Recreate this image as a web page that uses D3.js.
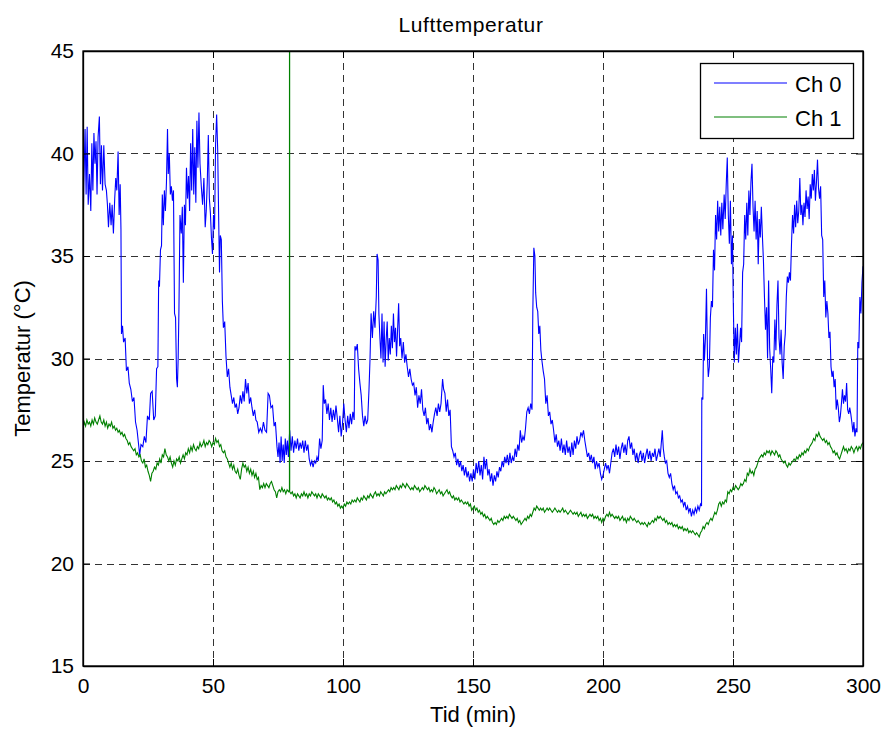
<!DOCTYPE html>
<html><head><meta charset="utf-8">
<script src="https://cdn.jsdelivr.net/npm/d3@7/dist/d3.min.js"></script>
<style>
body{margin:0;background:#fff;}
text{font-family:Arial,"Liberation Sans",Helvetica,sans-serif;fill:#000;}
</style></head>
<body>
<svg id="chart" width="885" height="729"></svg>
<script>
const chartTitle = "Lufttemperatur";
const xLabel = "Tid (min)";
const yLabel = "Temperatur (°C)";
const seriesNames = ["Ch 0", "Ch 1"];
const seriesColors = ["#0000ff", "#008000"];
const xTicks = [0, 50, 100, 150, 200, 250, 300];
const yTicks = [15, 20, 25, 30, 35, 40, 45];

// Ch 0: [time (min), temperature (°C)]
const ch0Data = [
[0,35.5],[0.3,38.4],[0.8,41.2],[1.2,38.0],[1.6,41.3],[2.0,37.5],[2.5,39.0],[3.0,37.2],[3.4,40.5],[3.8,38.2],
[4.2,41.0],[4.6,39.5],[5.0,40.6],[5.4,38.0],[5.8,40.8],[6.3,41.8],[6.7,38.5],[7.1,40.4],[7.5,38.2],[8.0,40.4],
[8.5,38.5],[9.0,38.2],[9.4,37.5],[9.8,36.4],[10.3,37.6],[10.8,36.5],[11.2,37.5],[11.7,36.1],[12.2,37.8],[12.6,38.8],
[13.0,38.2],[13.5,40.1],[13.9,37.0],[14.3,38.5],[14.6,36.3],[14.8,31.2],[15.2,31.6],[15.6,30.8],[16.2,31.0],[16.7,29.4],
[17.3,29.6],[17.8,28.8],[18.4,28.5],[19.0,27.9],[19.6,28.1],[20.2,26.9],[20.8,26.5],[21.3,25.9],[21.8,25.3],[22.3,25.8],
[23.0,25.7],[23.6,26.2],[24.2,25.9],[24.8,27.2],[25.5,27.0],[26.0,28.3],[26.6,28.4],[27.2,27.0],[27.8,27.2],[28.3,29.5],
[28.8,29.6],[29.1,33.8],[29.4,33.5],[29.8,35.3],[30.2,35.5],[30.5,38.0],[30.9,36.5],[31.3,38.2],[31.7,37.2],[32.1,38.6],
[32.5,41.2],[32.8,39.0],[33.2,40.0],[33.6,38.0],[34.0,38.4],[34.4,37.7],[34.8,38.2],[35.2,32.2],[35.6,32.0],[36.0,29.0],
[36.3,28.6],[36.6,30.0],[36.9,32.4],[37.3,37.0],[37.8,36.1],[38.2,37.4],[38.6,33.7],[39.0,37.5],[39.4,36.5],[39.8,39.3],
[40.2,37.8],[40.6,38.9],[41.0,37.2],[41.4,40.5],[41.8,38.2],[42.2,41.2],[42.6,38.0],[43.0,40.3],[43.4,37.6],[43.8,41.6],
[44.2,39.3],[44.6,42.0],[45.0,39.5],[45.5,38.4],[46.0,37.5],[46.5,38.8],[47.0,36.4],[47.4,37.2],[47.8,38.6],[48.2,40.9],
[48.6,37.8],[49.0,37.1],[49.4,35.9],[49.8,35.1],[50.2,37.0],[50.6,36.3],[51.0,40.5],[51.4,41.9],[51.8,40.2],[52.2,36.7],
[52.5,34.2],[52.8,36.0],[53.2,35.8],[53.6,32.8],[54.0,31.5],[54.5,31.8],[55.0,30.1],[55.5,29.1],[56.0,29.5],[56.5,28.6],
[57.0,28.2],[57.5,27.8],[58.0,28.1],[58.5,27.6],[59.0,27.8],[59.5,27.3],[60.0,27.6],[60.5,28.2],[61.0,27.8],[61.5,28.4],
[62.0,27.9],[62.5,29.0],[63.0,28.3],[63.5,28.8],[64.0,27.8],[64.5,28.1],[65.0,27.6],[65.5,27.2],[66.0,27.5],[66.5,27.0],
[67.0,26.9],[67.6,26.4],[68.2,26.6],[68.8,26.4],[69.4,26.9],[70.0,26.5],[70.6,26.4],[71.2,28.3],[71.7,28.2],[72.3,27.6],
[72.9,27.7],[73.5,26.7],[74.0,26.9],[74.6,25.7],[75.0,25.2],[75.4,25.9],[75.8,24.9],[76.2,26.2],[76.6,25.0],[77.0,25.8],
[77.4,24.9],[77.8,26.1],[78.2,25.3],[78.6,26.0],[79.0,25.2],[79.5,26.5],[80.0,25.5],[80.5,26.2],[81.0,25.4],[81.5,26.0],
[82.0,25.6],[82.5,26.1],[83.0,25.5],[83.5,25.9],[84.0,25.6],[84.5,26.0],[85.0,25.4],[85.5,26.0],[86.0,25.5],[86.5,25.8],
[87.0,25.1],[87.5,24.8],[88.0,25.0],[88.5,24.7],[89.0,25.0],[89.5,24.9],[90.0,25.2],[90.5,25.0],[91.0,26.1],[91.5,25.6],
[92.0,26.0],[92.4,28.7],[92.8,27.8],[93.3,28.0],[93.8,27.3],[94.3,27.8],[94.8,27.0],[95.3,27.6],[95.8,26.9],[96.3,27.5],
[96.8,27.0],[97.3,27.7],[97.8,27.1],[98.3,26.4],[98.8,27.2],[99.3,26.2],[99.8,26.8],[100.3,27.8],[100.8,27.0],[101.3,26.4],
[101.8,27.2],[102.3,26.6],[102.8,27.3],[103.3,26.8],[103.8,27.4],[104.3,27.0],[104.6,30.6],[105.0,30.4],[105.5,30.7],[106.0,29.5],
[106.5,28.8],[107.0,28.2],[107.5,27.2],[108.0,26.7],[108.5,27.2],[109.0,26.8],[109.5,27.0],[110.0,28.5],[110.4,30.0],[110.8,32.2],
[111.3,31.0],[111.8,32.3],[112.3,31.5],[112.8,33.0],[113.1,35.1],[113.5,34.8],[113.8,32.2],[114.2,31.0],[114.6,30.0],[115.0,32.2],
[115.4,29.8],[115.8,31.8],[116.2,29.6],[116.6,30.9],[117.0,31.8],[117.4,29.9],[117.8,31.0],[118.2,30.2],[118.6,31.6],[119.0,30.5],
[119.4,32.2],[119.8,30.8],[120.2,31.5],[120.6,30.1],[121.0,31.4],[121.4,32.7],[121.8,30.6],[122.2,31.0],[122.7,30.0],[123.2,30.8],
[123.7,29.8],[124.2,30.2],[124.7,29.6],[125.2,29.1],[125.7,29.5],[126.2,29.0],[126.7,28.7],[127.2,28.8],[127.7,28.2],[128.2,28.6],
[128.7,27.6],[129.2,28.2],[129.7,27.8],[130.2,28.5],[130.7,27.5],[131.2,27.2],[131.7,27.6],[132.2,26.8],[132.7,27.1],[133.2,26.5],
[133.7,26.8],[134.2,26.4],[134.7,26.9],[135.2,27.3],[135.7,27.6],[136.2,27.2],[136.7,27.8],[137.2,27.4],[137.7,27.8],[138.3,29.0],
[138.7,28.5],[139.2,28.3],[139.7,27.4],[140.2,28.0],[140.7,27.2],[141.2,27.5],[141.7,25.7],[142.2,25.5],[142.7,25.2],[143.2,25.4],
[143.7,24.8],[144.2,25.1],[144.7,24.7],[145.2,25.0],[145.7,24.5],[146.2,24.8],[146.7,24.3],[147.2,24.7],[147.7,24.2],[148.2,24.5],
[148.7,24.0],[149.2,24.4],[149.7,24.0],[150.2,24.6],[150.7,24.1],[151.2,24.9],[151.7,24.4],[152.2,25.0],[152.7,24.3],[153.2,24.8],
[153.7,24.1],[154.2,25.2],[154.7,24.6],[155.2,25.1],[155.7,24.3],[156.2,24.6],[156.7,24.0],[157.2,24.4],[157.7,23.8],[158.2,24.3],
[158.7,24.0],[159.2,24.5],[159.7,24.2],[160.2,24.7],[160.7,24.5],[161.2,25.0],[161.7,24.7],[162.2,25.2],[162.7,24.9],[163.2,25.3],
[163.7,24.8],[164.2,25.4],[164.7,24.9],[165.2,25.2],[165.7,25.0],[166.2,25.6],[166.7,25.2],[167.2,25.8],[167.7,25.5],[168.2,26.5],
[168.7,25.9],[169.2,26.2],[169.7,26.0],[170.2,26.6],[170.7,27.4],[171.2,27.6],[171.7,27.3],[172.2,27.8],[172.7,27.5],[173.0,32.2],
[173.4,35.4],[173.8,35.0],[174.1,33.2],[174.5,32.5],[174.9,32.3],[175.3,31.2],[175.7,31.6],[176.1,30.4],[176.5,29.9],[177.0,29.4],
[177.5,29.0],[178.0,27.8],[178.5,28.2],[179.0,27.2],[179.5,27.4],[180.0,26.8],[180.5,27.0],[181.0,26.5],[181.5,25.9],[182.0,26.3],
[182.5,25.7],[183.0,26.0],[183.5,25.5],[184.0,26.1],[184.5,25.4],[185.0,25.8],[185.5,25.3],[186.0,26.0],[186.5,25.4],[187.0,25.7],
[187.5,25.2],[188.0,25.9],[188.5,25.3],[189.0,26.0],[189.5,25.6],[190.0,26.2],[190.5,25.8],[191.0,26.0],[191.5,26.4],[192.0,26.2],
[192.5,26.5],[193.0,26.0],[193.5,25.6],[194.0,25.2],[194.5,25.4],[195.0,25.0],[195.5,25.3],[196.0,24.9],[196.5,25.2],[197.0,24.6],
[197.5,25.0],[198.0,24.7],[198.5,24.9],[199.0,24.4],[199.5,24.1],[200.0,24.3],[200.5,24.6],[201.0,24.9],[201.5,24.6],[202.0,24.8],
[202.5,24.4],[203.0,24.9],[203.5,25.4],[204.0,25.6],[204.5,25.2],[205.0,25.8],[205.5,25.3],[206.0,25.7],[206.5,25.1],[207.0,25.6],
[207.5,25.9],[208.0,25.4],[208.5,25.8],[209.0,25.3],[209.5,26.0],[210.0,26.2],[210.5,25.6],[211.0,25.9],[211.5,25.3],[212.0,25.6],
[212.5,25.0],[213.0,25.4],[213.5,24.9],[214.0,25.3],[214.5,25.5],[215.0,25.0],[215.5,25.4],[216.0,24.9],[216.5,25.3],[217.0,25.6],
[217.5,25.1],[218.0,25.5],[218.5,25.0],[219.0,25.4],[219.5,25.2],[220.0,25.6],[220.5,25.0],[221.0,25.3],[221.5,25.6],[222.0,25.2],
[222.5,26.0],[222.8,26.5],[223.2,25.6],[223.6,25.2],[224.0,24.9],[224.5,25.0],[225.0,24.4],[225.5,24.2],[226.0,24.4],[226.5,23.9],
[227.0,23.6],[227.5,23.8],[228.0,23.4],[228.5,23.5],[229.0,23.2],[229.5,23.3],[230.0,23.0],[230.5,23.1],[231.0,22.8],[231.5,23.0],
[232.0,22.6],[232.5,22.8],[233.0,22.5],[233.5,22.7],[234.0,22.3],[234.5,22.6],[235.0,22.4],[235.5,22.7],[236.0,22.5],[236.5,22.8],
[237.0,22.6],[237.5,22.9],[237.9,22.8],[238.0,28.1],[238.4,28.0],[238.7,31.2],[239.0,29.9],[239.4,31.0],[239.8,33.4],[240.2,30.0],
[240.5,29.1],[240.9,29.6],[241.3,32.0],[241.7,32.8],[242.1,32.5],[242.5,35.3],[242.9,34.3],[243.3,37.0],[243.7,35.8],[244.1,37.7],
[244.5,36.2],[244.9,37.4],[245.3,36.0],[245.7,37.6],[246.1,36.3],[246.6,38.0],[247.0,36.8],[247.4,38.5],[247.8,39.8],[248.2,37.0],
[248.6,35.6],[249.0,37.7],[249.4,34.6],[249.8,36.0],[250.1,32.8],[250.5,29.8],[250.9,31.5],[251.3,30.2],[251.7,31.7],[252.1,29.8],
[252.5,30.6],[252.9,31.5],[253.3,30.8],[253.7,34.2],[254.1,34.6],[254.5,37.0],[254.9,35.8],[255.3,37.6],[255.7,36.0],[256.1,38.2],
[256.5,37.0],[256.9,38.6],[257.3,39.5],[257.7,37.4],[258.1,36.2],[258.5,37.7],[258.9,35.8],[259.3,37.2],[259.7,34.6],[260.1,36.8],
[260.5,35.9],[260.9,37.4],[261.3,36.0],[261.7,34.8],[262.1,33.0],[262.5,31.4],[262.9,32.5],[263.3,30.0],[263.7,33.8],[264.1,30.5],
[264.5,29.5],[264.9,28.3],[265.3,30.1],[265.7,29.8],[266.1,31.9],[266.5,30.4],[266.9,32.6],[267.3,33.8],[267.7,31.0],[268.1,30.2],
[268.5,31.4],[268.9,29.8],[269.3,29.0],[269.7,30.6],[270.1,31.2],[270.5,33.0],[270.9,34.0],[271.3,33.7],[271.7,34.2],[272.1,33.8],
[272.5,35.6],[272.9,37.0],[273.3,36.1],[273.7,37.5],[274.1,36.4],[274.5,37.7],[274.9,36.6],[275.3,37.2],[275.7,38.8],[276.1,37.0],
[276.5,37.5],[276.9,36.5],[277.3,37.6],[277.7,36.9],[278.1,38.2],[278.5,37.3],[278.9,37.9],[279.3,36.8],[279.7,38.5],[280.1,37.8],
[280.5,39.0],[280.9,38.2],[281.3,39.2],[281.7,37.7],[282.1,38.6],[282.5,39.7],[282.9,38.3],[283.3,37.8],[283.7,38.4],[284.1,36.0],
[284.5,35.8],[284.9,33.0],[285.3,33.8],[285.7,32.0],[286.1,32.8],[286.5,32.2],[286.9,31.0],[287.3,31.3],[287.7,29.6],[288.1,29.1],
[288.5,29.4],[288.9,28.6],[289.3,29.0],[289.7,27.5],[290.1,28.0],[290.5,27.6],[290.9,26.9],[291.3,27.2],[291.7,27.8],[292.1,28.5],
[292.5,27.8],[292.9,28.2],[293.3,27.9],[293.7,28.8],[294.1,27.5],[294.5,27.3],[294.9,27.6],[295.3,27.3],[295.7,26.9],[296.1,26.4],
[296.5,26.9],[296.9,26.2],[297.3,26.6],[297.7,26.4],[298.0,30.8],[298.4,30.5],[298.8,33.0],[299.2,32.2],[299.6,33.7],[300.0,34.5]
];

// Ch 1: [time (min), temperature (°C)]
const ch1Data = [
[0,26.6],[0.5,26.9],[1,26.7],[1.5,27.0],[2,26.8],[2.5,26.9],[3,26.7],[3.5,27.0],[4,26.8],[4.5,27.1],
[5,26.9],[5.5,26.8],[6,27.0],[6.5,27.2],[7,26.9],[7.5,26.8],[8,27.0],[8.5,26.7],[9,26.9],[9.5,26.6],
[10,26.8],[10.5,26.7],[11,26.9],[11.5,26.6],[12,26.7],[12.5,26.5],[13,26.6],[13.5,26.4],[14,26.5],[14.5,26.3],
[15,26.4],[15.5,26.2],[16,26.3],[16.5,26.1],[17,26.0],[17.5,25.8],[18,25.9],[18.5,25.7],[19,25.6],[19.5,25.5],
[20,25.6],[20.5,25.3],[21,25.4],[21.5,25.2],[22,25.3],[22.5,25.0],[23,24.9],[23.5,25.1],[24,24.7],[24.5,24.8],
[25,24.5],[25.5,24.3],[26,24.0],[26.5,24.4],[27,24.5],[27.5,24.7],[28,24.6],[28.5,24.9],[29,24.8],[29.5,25.1],
[30,24.9],[30.5,25.3],[31,25.2],[31.5,25.6],[32,25.3],[32.5,25.2],[33,25.0],[33.5,25.2],[34,24.9],[34.5,24.7],
[35,25.0],[35.5,24.8],[36,25.1],[36.5,25.0],[37,25.2],[37.5,24.9],[38,25.1],[38.5,25.3],[39,25.1],[39.5,25.4],
[40,25.3],[40.5,25.6],[41,25.4],[41.5,25.7],[42,25.5],[42.5,25.8],[43,25.6],[43.5,25.5],[44,25.7],[44.5,25.6],
[45,25.9],[45.5,25.7],[46,25.8],[46.5,26.0],[47,25.7],[47.5,25.9],[48,25.8],[48.5,26.0],[49,25.9],[49.5,25.7],
[50,25.9],[50.5,25.8],[51,26.1],[51.5,25.9],[52,26.0],[52.5,25.7],[53,25.8],[53.5,25.5],[54,25.4],[54.5,25.5],
[55,25.2],[55.5,25.1],[56,24.9],[56.5,24.7],[57,24.9],[57.5,24.6],[58,24.8],[58.5,24.5],[59,24.4],[59.5,24.6],
[60,24.3],[60.5,24.1],[61,24.6],[61.5,24.9],[62,24.7],[62.5,24.8],[63,24.5],[63.5,24.7],[64,24.4],[64.5,24.6],
[65,24.3],[65.5,24.5],[66,24.2],[66.5,24.4],[67,24.1],[67.5,24.2],[68,23.6],[68.5,23.8],[69,23.7],[69.5,23.9],
[70,23.7],[70.5,23.9],[71,23.8],[71.5,23.7],[72,23.9],[72.5,24.0],[73,23.8],[73.5,23.6],[74,23.5],[74.5,23.2],
[75,23.5],[75.5,23.6],[76,23.5],[76.5,23.7],[77,23.5],[77.5,23.6],[78,23.4],[78.5,23.6],[79,23.5],[79.4,23.6],
[79.45,80],[79.5,23.5],[80,23.4],[80.5,23.5],[81,23.3],[81.5,23.4],[82,23.2],[82.5,23.4],[83,23.3],[83.5,23.2],
[84,23.4],[84.5,23.3],[85,23.5],[85.5,23.3],[86,23.4],[86.5,23.2],[87,23.4],[87.5,23.3],[88,23.5],[88.5,23.4],
[89,23.3],[89.5,23.4],[90,23.2],[90.5,23.4],[91,23.3],[91.5,23.2],[92,23.4],[92.5,23.3],[93,23.2],[93.5,23.3],
[94,23.1],[94.5,23.2],[95,23.1],[95.5,23.2],[96,23.0],[96.5,23.1],[97,22.9],[97.5,23.0],[98,22.8],[98.5,22.9],
[99,22.7],[99.5,22.8],[100,22.7],[100.5,22.9],[101,22.8],[101.5,23.0],[102,22.9],[102.5,23.0],[103,22.9],[103.5,23.1],
[104,23.0],[104.5,23.1],[105,23.0],[105.5,23.2],[106,23.1],[106.5,23.0],[107,23.2],[107.5,23.1],[108,23.3],[108.5,23.2],
[109,23.1],[109.5,23.3],[110,23.2],[110.5,23.4],[111,23.3],[111.5,23.2],[112,23.4],[112.5,23.5],[113,23.3],[113.5,23.4],
[114,23.3],[114.5,23.5],[115,23.4],[115.5,23.3],[116,23.5],[116.5,23.4],[117,23.5],[117.5,23.6],[118,23.5],[118.5,23.7],
[119,23.6],[119.5,23.7],[120,23.6],[120.5,23.8],[121,23.7],[121.5,23.6],[122,23.8],[122.5,23.7],[123,23.9],[123.5,23.8],
[124,23.7],[124.5,23.9],[125,23.8],[125.5,23.7],[126,23.6],[126.5,23.7],[127,23.6],[127.5,23.8],[128,23.7],[128.5,23.6],
[129,23.7],[129.5,23.5],[130,23.6],[130.5,23.7],[131,23.6],[131.5,23.8],[132,23.7],[132.5,23.6],[133,23.7],[133.5,23.5],
[134,23.6],[134.5,23.5],[135,23.7],[135.5,23.6],[136,23.4],[136.5,23.5],[137,23.6],[137.5,23.4],[138,23.5],[138.5,23.3],
[139,23.4],[139.5,23.5],[140,23.6],[140.5,23.4],[141,23.5],[141.5,23.3],[142,23.2],[142.5,23.3],[143,23.1],[143.5,23.2],
[144,23.1],[144.5,23.2],[145,23.0],[145.5,23.1],[146,23.0],[146.5,22.9],[147,23.0],[147.5,22.9],[148,23.0],[148.5,22.8],
[149,22.9],[149.5,22.6],[150,22.7],[150.5,22.8],[151,22.6],[151.5,22.7],[152,22.5],[152.5,22.6],[153,22.4],[153.5,22.5],
[154,22.3],[154.5,22.4],[155,22.2],[155.5,22.3],[156,22.2],[156.5,22.1],[157,22.2],[157.5,22.0],[158,21.9],[158.5,22.0],
[159,21.9],[159.5,22.1],[160,22.0],[160.5,22.1],[161,22.2],[161.5,22.1],[162,22.3],[162.5,22.2],[163,22.3],[163.5,22.2],
[164,22.4],[164.5,22.3],[165,22.2],[165.5,22.3],[166,22.2],[166.5,22.1],[167,22.2],[167.5,22.0],[168,22.1],[168.5,21.9],
[169,22.0],[169.5,22.1],[170,22.2],[170.5,22.1],[171,22.3],[171.5,22.2],[172,22.4],[172.5,22.3],[173,22.5],[173.5,22.7],
[174,22.6],[174.5,22.8],[175,22.7],[175.5,22.6],[176,22.7],[176.5,22.6],[177,22.7],[177.5,22.5],[178,22.6],[178.5,22.7],
[179,22.6],[179.5,22.7],[180,22.6],[180.5,22.5],[181,22.6],[181.5,22.7],[182,22.6],[182.5,22.5],[183,22.6],[183.5,22.5],
[184,22.6],[184.5,22.7],[185,22.5],[185.5,22.6],[186,22.5],[186.5,22.4],[187,22.5],[187.5,22.6],[188,22.5],[188.5,22.4],
[189,22.5],[189.5,22.4],[190,22.5],[190.5,22.3],[191,22.4],[191.5,22.5],[192,22.3],[192.5,22.4],[193,22.3],[193.5,22.4],
[194,22.2],[194.5,22.3],[195,22.4],[195.5,22.3],[196,22.4],[196.5,22.2],[197,22.3],[197.5,22.2],[198,22.3],[198.5,22.1],
[199,22.2],[199.5,22.0],[200,22.2],[200.5,22.1],[201,22.3],[201.5,22.4],[202,22.3],[202.5,22.5],[203,22.3],[203.5,22.4],
[204,22.3],[204.5,22.2],[205,22.3],[205.5,22.2],[206,22.3],[206.5,22.1],[207,22.2],[207.5,22.3],[208,22.1],[208.5,22.2],
[209,22.0],[209.5,22.2],[210,22.1],[210.5,22.3],[211,22.2],[211.5,22.1],[212,22.2],[212.5,22.1],[213,22.0],[213.5,22.1],
[214,22.0],[214.5,21.9],[215,22.0],[215.5,21.9],[216,22.0],[216.5,21.9],[217,21.8],[217.5,22.0],[218,21.9],[218.5,22.0],
[219,22.1],[219.5,22.0],[220,22.2],[220.5,22.1],[221,22.3],[221.5,22.2],[222,22.3],[222.5,22.2],[223,22.1],[223.5,22.2],
[224,22.0],[224.5,22.1],[225,21.9],[225.5,22.0],[226,21.9],[226.5,22.0],[227,21.8],[227.5,21.9],[228,21.8],[228.5,21.9],
[229,21.7],[229.5,21.8],[230,21.7],[230.5,21.8],[231,21.6],[231.5,21.7],[232,21.6],[232.5,21.7],[233,21.5],[233.5,21.6],
[234,21.5],[234.5,21.6],[235,21.5],[235.5,21.4],[236,21.5],[236.5,21.4],[237,21.3],[237.5,21.5],[238,21.6],[238.5,21.8],
[239,21.7],[239.5,21.9],[240,22.0],[240.5,21.9],[241,22.1],[241.5,22.2],[242,22.1],[242.5,22.3],[243,22.5],[243.5,22.4],
[244,22.6],[244.5,22.9],[245,23.0],[245.5,22.8],[246,23.0],[246.5,22.9],[247,23.1],[247.5,23.0],[248,23.5],[248.5,23.4],
[249,23.6],[249.5,23.5],[250,23.7],[250.5,23.6],[251,23.8],[251.5,23.7],[252,23.6],[252.5,23.7],[253,23.9],[253.5,23.8],
[254,23.9],[254.5,24.1],[255,24.0],[255.5,24.4],[256,24.3],[256.5,24.6],[257,24.4],[257.5,24.5],[258,24.3],[258.5,24.6],
[259,24.7],[259.5,24.9],[260,25.1],[260.5,25.2],[261,25.3],[261.5,25.2],[262,25.4],[262.5,25.3],[263,25.5],[263.5,25.4],
[264,25.5],[264.5,25.3],[265,25.5],[265.5,25.4],[266,25.3],[266.5,25.5],[267,25.4],[267.5,25.2],[268,25.3],[268.5,25.1],
[269,25.0],[269.5,24.9],[270,25.0],[270.5,24.8],[271,24.7],[271.5,24.9],[272,24.8],[272.5,24.9],[273,25.0],[273.5,25.1],
[274,25.0],[274.5,25.2],[275,25.1],[275.5,25.3],[276,25.2],[276.5,25.4],[277,25.3],[277.5,25.5],[278,25.4],[278.5,25.6],
[279,25.5],[279.5,25.7],[280,25.8],[280.5,25.9],[281,26.1],[281.5,26.0],[282,26.3],[282.5,26.2],[283,26.4],[283.5,26.2],
[284,26.1],[284.5,26.0],[285,26.1],[285.5,25.9],[286,26.0],[286.5,25.8],[287,25.9],[287.5,25.7],[288,25.6],[288.5,25.4],
[289,25.5],[289.5,25.3],[290,25.4],[290.5,25.2],[291,25.1],[291.5,25.3],[292,25.5],[292.5,25.7],[293,25.5],[293.5,25.6],
[294,25.4],[294.5,25.6],[295,25.5],[295.5,25.7],[296,25.6],[296.5,25.4],[297,25.6],[297.5,25.7],[298,25.5],[298.5,25.7],
[299,25.6],[299.5,25.8],[300,25.9]
];

const seriesData = [ch0Data, ch1Data];

const svg = d3.select("#chart");
const L = 83, R = 863, T = 51, B = 666;
const x = d3.scaleLinear().domain([0, 300]).range([L, R]);
const y = d3.scaleLinear().domain([15, 45]).range([B, T]);

// grid
const grid = svg.append("g").attr("stroke", "#333").attr("stroke-width", 1).attr("stroke-dasharray", "7,5").attr("fill", "none");
xTicks.slice(1, -1).forEach(t => {
  grid.append("line").attr("x1", Math.round(x(t)) + 0.5).attr("x2", Math.round(x(t)) + 0.5).attr("y1", T).attr("y2", B);
});
yTicks.slice(1, -1).forEach(t => {
  grid.append("line").attr("y1", Math.round(y(t)) + 0.5).attr("y2", Math.round(y(t)) + 0.5).attr("x1", L).attr("x2", R);
});

// clip
svg.append("clipPath").attr("id", "clip").append("rect").attr("x", L).attr("y", T).attr("width", R - L).attr("height", B - T);

const line = d3.line().x(d => x(d[0])).y(d => y(d[1]));
const plot = svg.append("g").attr("clip-path", "url(#clip)");
seriesData.forEach((data, i) => {
  plot.append("path").datum(data).attr("d", line).attr("fill", "none")
    .style("stroke", seriesColors[i]).attr("stroke-width", 1.1).attr("stroke-linejoin", "miter");
});

// axes (ticks inside, MATLAB style)
const tickLen = 7;
const xAxisB = d3.axisBottom(x).tickValues(xTicks).tickSizeInner(-tickLen).tickSizeOuter(0).tickPadding(12);
const gxb = svg.append("g").attr("transform", `translate(0,${B})`).call(xAxisB);
const xAxisT = d3.axisTop(x).tickValues(xTicks).tickSizeInner(-tickLen).tickSizeOuter(0).tickFormat("");
svg.append("g").attr("transform", `translate(0,${T})`).call(xAxisT);
const yAxisL = d3.axisLeft(y).tickValues(yTicks).tickSizeInner(-tickLen).tickSizeOuter(0).tickPadding(9);
const gyl = svg.append("g").attr("transform", `translate(${L},0)`).call(yAxisL);
const yAxisR = d3.axisRight(y).tickValues(yTicks).tickSizeInner(-tickLen).tickSizeOuter(0).tickFormat("");
svg.append("g").attr("transform", `translate(${R},0)`).call(yAxisR);

svg.selectAll(".domain").attr("stroke", "#000").attr("stroke-width", 1.3);
svg.selectAll(".tick line").attr("stroke", "#000");
gxb.selectAll("text").attr("font-size", 21).attr("font-family", "Arial, 'Liberation Sans', sans-serif").attr("fill", "#000");
gyl.selectAll("text").attr("font-size", 21).attr("font-family", "Arial, 'Liberation Sans', sans-serif").attr("fill", "#000");

// border box
svg.append("rect").attr("x", L).attr("y", T).attr("width", R - L).attr("height", B - T)
  .attr("fill", "none").attr("stroke", "#000").attr("stroke-width", 1.3);

// titles
svg.append("text").attr("x", (L + R) / 2 - 2).attr("y", 32).attr("text-anchor", "middle")
  .attr("font-size", 21).attr("letter-spacing", 0.6).text(chartTitle);
svg.append("text").attr("x", (L + R) / 2).attr("y", 722).attr("text-anchor", "middle")
  .attr("font-size", 22).text(xLabel);
svg.append("text").attr("transform", `translate(30,${(T + B) / 2}) rotate(-90)`).attr("text-anchor", "middle")
  .attr("font-size", 22).text(yLabel);

// legend
const lg = svg.append("g");
lg.append("rect").attr("x", 700.5).attr("y", 63.5).attr("width", 153).attr("height", 75)
  .attr("fill", "#fff").attr("stroke", "#000").attr("stroke-width", 1.3);
seriesNames.forEach((name, i) => {
  const yy = 83 + i * 34;
  lg.append("line").attr("x1", 714).attr("x2", 787).attr("y1", yy).attr("y2", yy)
    .style("stroke", seriesColors[i]).attr("stroke-width", 1.2);
  lg.append("text").attr("x", 795).attr("y", yy + 8.5).attr("font-size", 22).text(name);
});
</script>
</body></html>
